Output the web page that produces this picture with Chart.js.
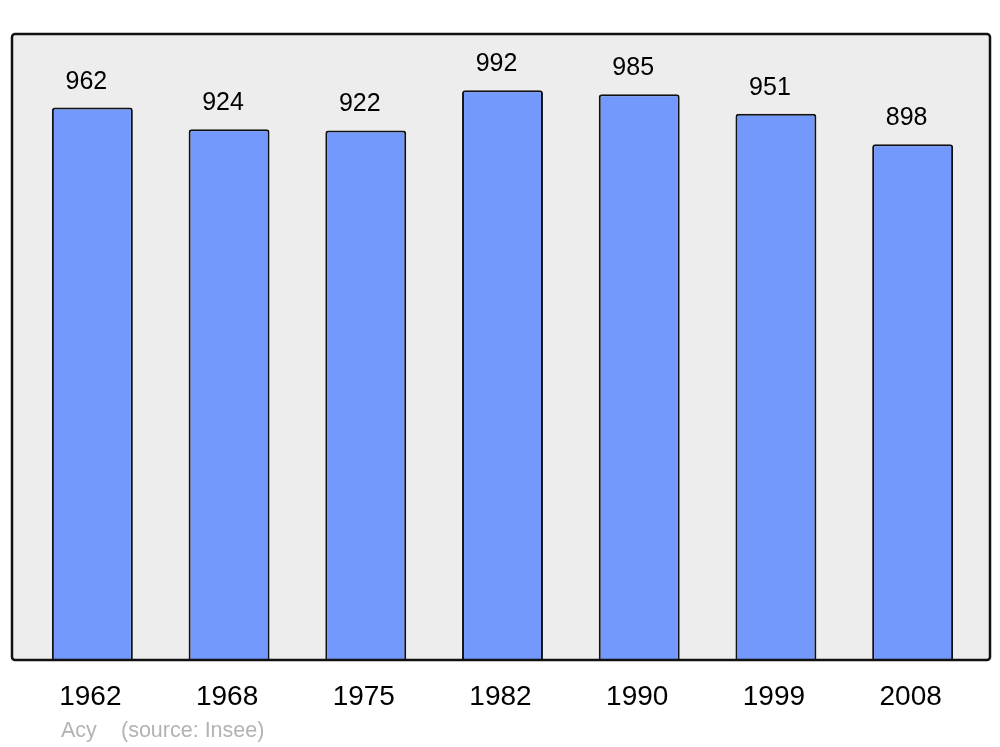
<!DOCTYPE html>
<html>
<head>
<meta charset="utf-8">
<script src="https://cdn.jsdelivr.net/npm/chart.js@4"></script>
<style>
  html, body { margin: 0; padding: 0; background: #fff; }
  #wrap { width: 1000px; height: 747px; }
</style>
</head>
<body>
<div id="wrap"><canvas id="myChart" width="1000" height="747"></canvas></div>
<script>
const years = ['1962', '1968', '1975', '1982', '1990', '1999', '2008'];
const population = [962, 924, 922, 992, 985, 951, 898];
const townName = 'Acy';
const sourceText = '(source: Insee)';

// frame, value labels, year labels and source line
const decorations = {
  id: 'decorations',
  beforeDatasetsDraw(chart) {
    const {ctx, chartArea} = chart;
    const l = chartArea.left - 12, r = chartArea.right + 9;
    const t = chartArea.top, b = chartArea.bottom;
    ctx.save();
    ctx.beginPath();
    ctx.roundRect(l, t, r - l, b - t, 3);
    ctx.fillStyle = '#ededed';
    ctx.fill();
    ctx.restore();
  },
  afterDatasetsDraw(chart) {
    const {ctx, chartArea} = chart;
    const l = chartArea.left - 12, r = chartArea.right + 9;
    const t = chartArea.top, b = chartArea.bottom;
    ctx.save();
    ctx.beginPath();
    ctx.roundRect(l, t, r - l, b - t, 3);
    ctx.lineWidth = 2.5;
    ctx.strokeStyle = '#111';
    ctx.stroke();

    const meta = chart.getDatasetMeta(0);
    ctx.fillStyle = '#000';
    ctx.textAlign = 'center';
    ctx.textBaseline = 'alphabetic';
    ctx.font = '25px "Liberation Sans", Arial, sans-serif';
    meta.data.forEach((bar, i) => {
      ctx.fillText(String(population[i]), bar.x - 6, bar.y - 19);
    });
    ctx.font = '28px "Liberation Sans", Arial, sans-serif';
    meta.data.forEach((bar, i) => {
      ctx.fillText(years[i], bar.x - 2, b + 45);
    });
    ctx.textAlign = 'left';
    ctx.fillStyle = '#b3b3b3';
    ctx.font = '21.5px "Liberation Sans", Arial, sans-serif';
    ctx.fillText(townName, 61, b + 77);
    ctx.fillText(sourceText, 121, b + 77);
    ctx.restore();
  }
};

const ctx = document.getElementById('myChart').getContext('2d');
const myChart = new Chart(ctx, {
  type: 'bar',
  data: {
    labels: years,
    datasets: [{
      data: population,
      backgroundColor: '#7399ff',
      borderColor: '#111',
      borderWidth: 2,
      borderSkipped: 'bottom',
      borderRadius: {topLeft: 3, topRight: 3, bottomLeft: 0, bottomRight: 0},
      barPercentage: 0.592,
      categoryPercentage: 1
    }]
  },
  options: {
    responsive: false,
    animation: false,
    layout: {padding: {left: 24, right: 19, top: 34, bottom: 87}},
    plugins: {legend: {display: false}, tooltip: {enabled: false}},
    scales: {
      x: {display: false},
      y: {display: false, min: 0, max: 1090}
    }
  },
  plugins: [decorations]
});
</script>
</body>
</html>
